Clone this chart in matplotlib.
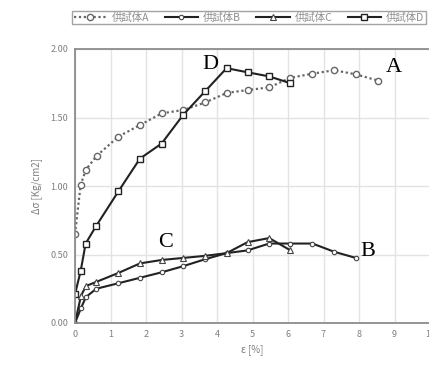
import matplotlib
matplotlib.use("Agg")
import matplotlib.pyplot as plt

plt.rcParams['font.family'] = ['Noto Sans CJK JP', 'DejaVu Sans']

# strain [%] / stress [Kg/cm2]
a_x = [0, 0.16, 0.31, 0.61, 1.22, 1.83, 2.44, 3.05, 3.67, 4.28, 4.86, 5.47, 6.07, 6.69, 7.30, 7.91, 8.53]
a_y = [0.65, 1.01, 1.12, 1.22, 1.36, 1.445, 1.53, 1.555, 1.61, 1.68, 1.70, 1.72, 1.79, 1.82, 1.845, 1.815, 1.77]

b_x = [0, 0.17, 0.31, 0.60, 1.22, 1.83, 2.44, 3.05, 3.66, 4.27, 4.86, 5.47, 6.07, 6.69, 7.30, 7.91]
b_y = [0, 0.11, 0.19, 0.25, 0.29, 0.33, 0.37, 0.415, 0.465, 0.51, 0.53, 0.58, 0.58, 0.58, 0.52, 0.475]

c_x = [0, 0.17, 0.31, 0.60, 1.22, 1.83, 2.44, 3.05, 3.66, 4.27, 4.86, 5.47, 6.07]
c_y = [0, 0.20, 0.27, 0.30, 0.365, 0.435, 0.46, 0.475, 0.49, 0.51, 0.59, 0.62, 0.53]

d_x = [0, 0.16, 0.30, 0.60, 1.22, 1.83, 2.44, 3.05, 3.66, 4.27, 4.86, 5.47, 6.07]
d_y = [0.21, 0.38, 0.58, 0.71, 0.96, 1.20, 1.31, 1.52, 1.69, 1.86, 1.83, 1.80, 1.75]

names = ["供試体A", "供試体B", "供試体C", "供試体D"]
x_ticks = list(range(0, 11))
y_ticks = [0.0, 0.5, 1.0, 1.5, 2.0]

# curve tags: letter, x, y
tags = [("A", 8.97, 1.865), ("B", 8.26, 0.525), ("C", 2.54, 0.585), ("D", 3.80, 1.89)]

fig = plt.figure(figsize=(4.29, 3.67), dpi=100)
ax = fig.add_axes([75 / 429, 1 - 323 / 367, 355 / 429, 274 / 367])

dark = "#222222"
ax.plot(a_x, a_y, ls=(0, (1, 1.2)), color="#666666", lw=1.6, marker="o", ms=4.5,
        mfc="white", mec="#666666", mew=1.0, label=names[0])
ax.plot(b_x, b_y, ls="-", color=dark, lw=1.5, marker="o", ms=3.2,
        mfc="white", mec="#444444", mew=0.8, label=names[1])
ax.plot(c_x, c_y, ls="-", color=dark, lw=1.5, marker="^", ms=3.8,
        mfc="white", mec="#444444", mew=0.8, label=names[2])
ax.plot(d_x, d_y, ls="-", color=dark, lw=1.5, marker="s", ms=4.5,
        mfc="white", mec=dark, mew=1.0, label=names[3])

for t, tx, ty in tags:
    ax.text(tx, ty, t, fontsize=16, family="Liberation Serif", ha="center", va="center",
            color="black")

ax.set_xlim(0, 10)
ax.set_ylim(0, 2.0)
ax.set_xticks(x_ticks)
ax.set_yticks(y_ticks)
ax.set_yticklabels([f"{v:.2f}" for v in y_ticks])
ax.tick_params(labelsize=6.5, colors="#7f7f7f", length=0, pad=5)
ax.grid(True, color="#e3e3e3", lw=1.0)
ax.set_axisbelow(True)
for s in ["left", "bottom", "top"]:
    ax.spines[s].set_color("#8c8c8c")
    ax.spines[s].set_linewidth(1.3)
ax.spines["right"].set_visible(False)

ax.set_xlabel("ε [%]", fontsize=7, color="#7f7f7f", labelpad=4)
ax.set_ylabel("Δσ [Kg/cm2]", fontsize=7, color="#7f7f7f", labelpad=6)

leg = fig.legend(loc="upper left", bbox_to_anchor=(72 / 429, 1 - 11 / 367), ncol=4,
                 fontsize=7.5, handlelength=3.2, columnspacing=1.5, handletextpad=0.45,
                 borderpad=0.15, borderaxespad=0.0, fancybox=False, frameon=True)
leg.get_frame().set_edgecolor("#8c8c8c")
leg.get_frame().set_linewidth(1.0)
for txt in leg.get_texts():
    txt.set_color("#8c8c8c")

fig.savefig("out.png", dpi=100)
